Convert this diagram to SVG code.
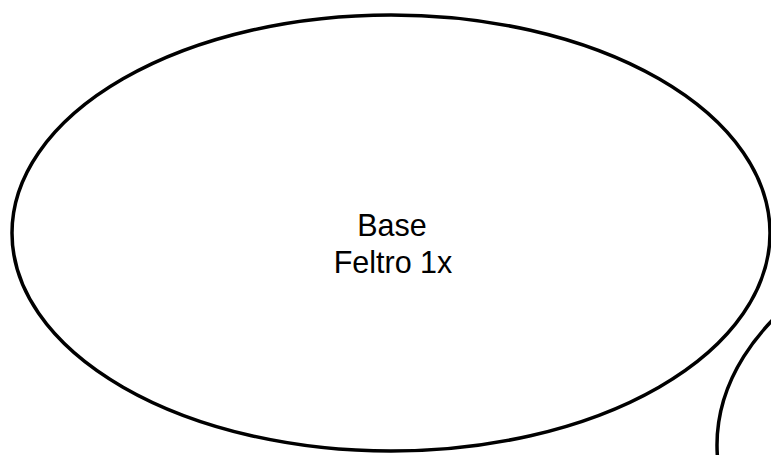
<svg xmlns="http://www.w3.org/2000/svg" width="771" height="455" viewBox="0 0 771 455">
<style>
.n{fill:#fff;stroke:#000;stroke-width:3.5}
.t{font-family:"Liberation Sans",Arial,sans-serif;font-size:30.5px;fill:#000;text-anchor:middle}
</style>
<rect width="771" height="455" fill="#fff"/>
<g id="connectors"></g>
<g id="node-base">
<ellipse class="n" cx="391" cy="233" rx="379" ry="218"/>
<text class="t" x="392" y="236">Base</text>
<text class="t" x="393" y="273">Feltro 1x</text>
</g>
<g id="node-2">
<ellipse class="n" cx="1097" cy="445" rx="380" ry="240"/>
</g>
</svg>
